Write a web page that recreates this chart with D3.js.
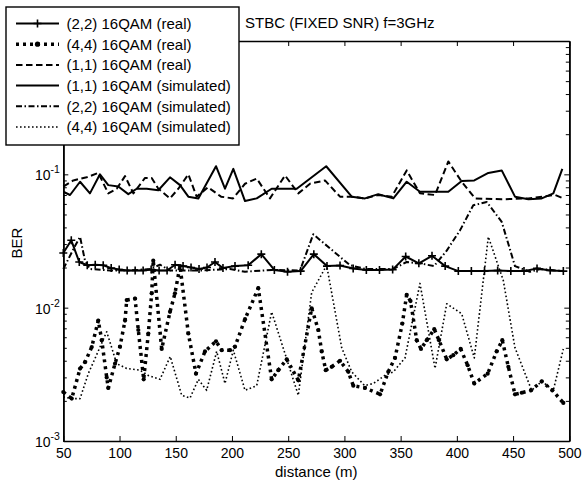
<!DOCTYPE html>
<html><head><meta charset="utf-8">
<script src="https://cdn.jsdelivr.net/npm/d3@7"></script>
<style>
body{margin:0;background:#fff;}
svg{display:block;font-family:"Liberation Sans",Arial,sans-serif;}
</style></head><body>
<svg id="chart" width="582" height="483"></svg>
<script>
// ---------- data ----------
const xTicks = [50,100,150,200,250,300,350,400,450,500];
const yMajor = [1e-3,1e-2,1e-1,1];
const titleText = "STBC (FIXED SNR) f=3GHz";
const xLabel = "distance (m)";
const yLabel = "BER";
const seriesNames = ["(2,2) 16QAM (real)","(4,4) 16QAM (real)","(1,1) 16QAM (real)",
  "(1,1) 16QAM (simulated)","(2,2) 16QAM (simulated)","(4,4) 16QAM (simulated)"];

const distReal22 = [50,57.1,64.2,71.3,78.4,85.5,92.6,99.7,106.8,113.9,121,128.1,135.2,142.3,149.4,156.5,163.6,170.7,177.8,184.9,192,
  202.7,214.4,226.1,237.7,249.4,261.1,272.8,284.5,296.1,307.8,319.5,331.2,342.9,354.5,366.2,377.9,389.6,401.3,412.9,424.6,436.3,448,459.7,471.3,483,494.7];
const berReal22 = [0.0257,0.032,0.022,0.0208,0.021,0.0208,0.0198,0.0193,0.019,0.019,0.019,0.0193,0.019,0.019,0.021,0.0205,0.02,0.0195,0.02,0.022,0.0198,
  0.0205,0.0208,0.0252,0.0192,0.0186,0.0188,0.0252,0.0205,0.0207,0.0197,0.0192,0.0192,0.0193,0.0242,0.0215,0.0245,0.0205,0.0188,0.0188,0.0188,0.019,0.0188,0.0188,0.0197,0.019,0.0188];

const distReal44 = [50,57.5,64.9,69.3,75.3,81.1,84.2,88.6,90,96,100.4,104.9,106.4,113.8,116.7,121.5,125.6,128.6,130,137.5,144.9,149.3,153.8,161.2,168,176,185.8,190.9,198.3,202.7,211.6,223.4,
  235.3,241.2,248.7,259,270.9,276.8,279.8,283.4,288.7,296.1,303.5,307.9,318.3,331.7,339,345,351.5,355.4,358.8,364.3,368.1,373.2,379.9,384.1,391,396.8,403.4,409.6,415.5,427.4,435.4,440.4,445.8,451.7,457.7,466,475.5,484.9,494.7];
const berReal44 = [0.00233,0.00208,0.00349,0.0039,0.00507,0.008,0.0057,0.003,0.0025,0.0038,0.0051,0.008,0.0114,0.0117,0.0068,0.0029,0.0064,0.0128,0.0225,0.0049,0.0093,0.0128,0.0205,0.0064,0.0032,0.0047,0.0056,0.0048,0.0048,0.0051,0.0082,0.014,
  0.0029,0.0034,0.0041,0.00285,0.0099,0.0068,0.0047,0.0034,0.0036,0.004,0.0033,0.0026,0.0025,0.00224,0.0033,0.0042,0.0076,0.0125,0.0112,0.0057,0.0049,0.0057,0.0069,0.0057,0.0041,0.0044,0.0049,0.0037,0.0027,0.0032,0.0047,0.0057,0.0036,0.00224,0.0023,0.0024,0.0028,0.0024,0.00193];

const distReal11 = [50,58.9,70.8,81.1,90,97.5,104.9,112.3,122.7,128.6,134.5,144.9,152.3,161.2,168.6,178.7,190.3,200.9,211.6,222,233.8,247.2,259,269.4,282.7,296.1,306.5,318.3,330.1,342.1,355.4,367.2,380.6,392.4,404.3,416.2,439.9,463.6,487.3,494.7];
const berReal11 = [0.081,0.09,0.095,0.1025,0.072,0.078,0.097,0.072,0.094,0.094,0.078,0.066,0.078,0.1,0.068,0.08,0.068,0.066,0.085,0.093,0.066,0.098,0.072,0.085,0.09,0.068,0.068,0.066,0.07,0.068,0.107,0.072,0.07,0.125,0.088,0.066,0.065,0.066,0.07,0.066];

const distSim11 = [50,56,64.9,73.7,82.6,90,98.9,107.8,115.3,124.2,134.5,144.9,153.8,161.2,170.1,185.8,193.8,201.2,211.6,222,235.3,257.6,283.8,306.5,318.3,330.1,343.5,355.4,367.2,392.4,404.3,415.5,428,439.9,451.7,463.6,475.5,485.8,493.8];
const berSim11 = [0.074,0.07,0.088,0.072,0.1,0.083,0.081,0.071,0.078,0.078,0.076,0.095,0.083,0.068,0.066,0.115,0.078,0.11,0.063,0.066,0.078,0.078,0.115,0.068,0.066,0.071,0.066,0.088,0.074,0.074,0.089,0.09,0.1025,0.107,0.068,0.065,0.066,0.072,0.11];

const distSim22 = [50,60.4,64.9,69.3,73.7,91.5,109.3,127.1,136,144.9,171.6,198.3,211.6,235.6,260.5,272.3,305,319.2,343.2,355.4,367.2,379.7,391,402.8,414.6,426.6,439.9,451.7,465,474.8,494.7];
const berSim22 = [0.0195,0.029,0.034,0.0225,0.0195,0.019,0.019,0.0195,0.021,0.019,0.019,0.0195,0.0186,0.0192,0.019,0.0355,0.0208,0.0195,0.0195,0.022,0.0215,0.0205,0.0268,0.038,0.0586,0.062,0.044,0.0205,0.0186,0.0195,0.0188];

const distSim44 = [50,57.5,64.9,72.2,80,88.6,97.5,106.4,118.2,125.6,136,145.1,155.3,162.7,170.1,177.5,186.4,193.8,201.2,211.6,222,235.3,259,270.9,284.2,297.6,306.5,318,325.7,336,343.5,353.9,367.2,380.6,391,404.3,415.5,428,441.3,451.7,466.5,475.5,485.8,494.7];
const berSim44 = [0.00214,0.00208,0.00208,0.0032,0.0045,0.0066,0.0038,0.0035,0.0034,0.0031,0.0029,0.0043,0.0022,0.0021,0.0029,0.0024,0.0047,0.0027,0.0048,0.0024,0.0026,0.0093,0.0022,0.013,0.0208,0.005,0.0033,0.0026,0.0027,0.0031,0.0033,0.0042,0.0152,0.0035,0.0107,0.009,0.0042,0.034,0.016,0.005,0.0024,0.0028,0.0024,0.0049];

// ---------- chart ----------
const svg = d3.select('#chart');
const M = {l:63.3, r:569.3, t:41, b:441};
const x = d3.scaleLinear().domain([50,500]).range([M.l, M.r]);
const y = d3.scaleLog().domain([1e-3,1]).range([M.b, M.t]);

const minor = [];
for (let e=-3; e<0; e++) for (let k=2; k<=9; k++) minor.push(k*Math.pow(10,e));

const series = [
  {name:seriesNames[0], d:distReal22, v:berReal22, w:2,   dash:null,           marker:'plus'},
  {name:seriesNames[1], d:distReal44, v:berReal44, w:3.5, dash:'3,4',          marker:'dot'},
  {name:seriesNames[2], d:distReal11, v:berReal11, w:2,   dash:'6.5,3.5',      marker:null},
  {name:seriesNames[3], d:distSim11,  v:berSim11,  w:2,   dash:null,           marker:null},
  {name:seriesNames[4], d:distSim22,  v:berSim22,  w:2,   dash:'6,2.5,1.5,2.5',marker:null},
  {name:seriesNames[5], d:distSim44,  v:berSim44,  w:1.6, dash:'1.6,2.4',      marker:null}
];

const line = d3.line().x(p=>x(p[0])).y(p=>y(p[1]));
const plot = svg.append('g');
series.forEach(s=>{
  const pts = s.d.map((d,i)=>[d, s.v[i]]);
  plot.append('path').attr('d', line(pts)).attr('fill','none').attr('stroke','#000')
    .attr('stroke-width', s.w).attr('stroke-dasharray', s.dash).attr('stroke-linejoin','round');
  if (s.marker==='plus') {
    plot.selectAll(null).data(pts).enter().append('path')
      .attr('d', p=>`M${x(p[0])-4},${y(p[1])}h8M${x(p[0])},${y(p[1])-4}v8`)
      .attr('stroke','#000').attr('stroke-width',1.6);
  } else if (s.marker==='dot') {
    plot.selectAll(null).data(pts).enter().append('circle')
      .attr('cx',p=>x(p[0])).attr('cy',p=>y(p[1])).attr('r',2.1).attr('fill','#000');
  }
});

// axes
function styleAxis(g){
  g.attr('font-family',null).attr('font-size',14);
  g.selectAll('path.domain').attr('stroke','#000').attr('stroke-width',1.6);
  g.selectAll('line').attr('stroke','#000').attr('stroke-width',1);
  g.selectAll('text').attr('fill','#000');
}
svg.append('g').attr('transform',`translate(0,${M.b})`)
  .call(d3.axisBottom(x).tickValues(xTicks).tickSize(-5).tickSizeOuter(0).tickPadding(7).tickFormat(d3.format('d')))
  .call(styleAxis);
svg.append('g').attr('transform',`translate(0,${M.t})`)
  .call(d3.axisTop(x).tickValues(xTicks).tickSize(-5).tickSizeOuter(0).tickFormat(''))
  .call(styleAxis);
svg.append('g').attr('transform',`translate(${M.l},0)`)
  .call(d3.axisLeft(y).tickValues(yMajor).tickSize(-5).tickSizeOuter(0).tickFormat(''))
  .call(styleAxis);
svg.append('g').attr('transform',`translate(${M.l},0)`)
  .call(d3.axisLeft(y).tickValues(minor).tickSize(-3.5).tickSizeOuter(0).tickFormat(''))
  .call(styleAxis);
svg.append('g').attr('transform',`translate(${M.r},0)`)
  .call(d3.axisRight(y).tickValues(yMajor).tickSize(-5).tickSizeOuter(0).tickFormat(''))
  .call(styleAxis);
svg.append('g').attr('transform',`translate(${M.r},0)`)
  .call(d3.axisRight(y).tickValues(minor).tickSize(-3.5).tickSizeOuter(0).tickFormat(''))
  .call(styleAxis);

// y tick labels 10^n
yMajor.forEach(v=>{
  const t = svg.append('text').attr('x', M.l-3.5).attr('y', y(v)+6).attr('text-anchor','end')
    .attr('font-size',14).attr('fill','#000');
  t.append('tspan').text('10');
  t.append('tspan').attr('dy',-7).attr('font-size',10.5).text(String(Math.round(Math.log10(v))));
});

// labels
svg.append('text').attr('x',(M.l+M.r)/2).attr('y',477).attr('text-anchor','middle')
  .attr('font-size',15).text(xLabel);
svg.append('text').attr('transform',`translate(22,243) rotate(-90)`).attr('text-anchor','middle')
  .attr('font-size',15).text(yLabel);
svg.append('text').attr('x',245).attr('y',28).attr('font-size',15).text(titleText);

// legend
const lg = svg.append('g');
lg.append('rect').attr('x',6).attr('y',7).attr('width',233).attr('height',138)
  .attr('fill','#fff').attr('stroke','#000').attr('stroke-width',1.4);
series.forEach((s,i)=>{
  const cy = 23.5 + i*20.7;
  lg.append('line').attr('x1',16).attr('x2',59).attr('y1',cy).attr('y2',cy)
    .attr('stroke','#000').attr('stroke-width',s.w).attr('stroke-dasharray',s.dash);
  if (s.marker==='plus') lg.append('path').attr('d',`M${37.5-4},${cy}h8M37.5,${cy-4}v8`).attr('stroke','#000').attr('stroke-width',1.6);
  if (s.marker==='dot') lg.append('circle').attr('cx',37.5).attr('cy',cy).attr('r',2.6).attr('fill','#000');
  lg.append('text').attr('x',66.5).attr('y',cy+5.3).attr('font-size',15).text(s.name);
});
</script>
</body></html>
